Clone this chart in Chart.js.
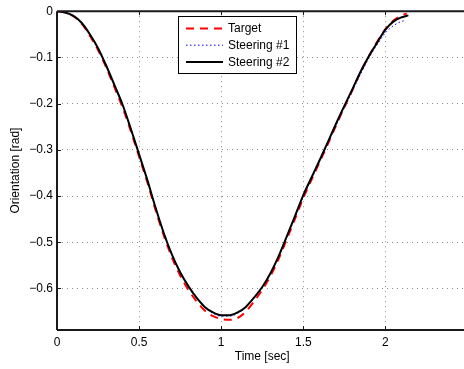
<!DOCTYPE html>
<html><head><meta charset="utf-8">
<script src="https://cdn.jsdelivr.net/npm/chart.js@4/dist/chart.umd.min.js"></script>
<style>html,body{margin:0;padding:0;overflow:hidden;background:#fff;width:464px;height:369px}canvas{display:block}</style>
</head><body><canvas id="c" width="468" height="369"></canvas>
<script>
// ---- data ----
const timeTarget = [0,0.05,0.1,0.15,0.2,0.25,0.3,0.35,0.4,0.45,0.5,0.55,0.6,0.65,0.7,0.75,0.8,0.85,0.9,0.95,1.0,1.05,1.1,1.15,1.2,1.25,1.3,1.35,1.4,1.45,1.5,1.55,1.6,1.65,1.7,1.75,1.8,1.85,1.9,1.95,2.0,2.05,2.1,2.13];
const target = [0,-0.003,-0.011,-0.027,-0.053,-0.084,-0.122,-0.165,-0.209,-0.26,-0.315,-0.37,-0.43,-0.485,-0.533,-0.572,-0.603,-0.628,-0.648,-0.66,-0.666,-0.668,-0.664,-0.65,-0.628,-0.603,-0.573,-0.536,-0.493,-0.449,-0.404,-0.365,-0.326,-0.287,-0.247,-0.208,-0.17,-0.131,-0.097,-0.066,-0.039,-0.020,-0.009,-0.005];
const timeSteer1 = [0,0.05,0.1,0.15,0.2,0.25,0.3,0.35,0.4,0.45,0.5,0.55,0.6,0.65,0.7,0.75,0.8,0.85,0.9,0.95,1.0,1.05,1.1,1.15,1.2,1.25,1.3,1.35,1.4,1.45,1.5,1.55,1.6,1.65,1.7,1.75,1.8,1.85,1.9,1.95,2.0,2.05,2.1,2.12];
const steer1 = [0,-0.003,-0.010,-0.025,-0.050,-0.080,-0.118,-0.160,-0.203,-0.255,-0.310,-0.365,-0.425,-0.480,-0.527,-0.566,-0.596,-0.621,-0.641,-0.654,-0.660,-0.660,-0.654,-0.640,-0.620,-0.597,-0.567,-0.531,-0.489,-0.446,-0.401,-0.363,-0.325,-0.286,-0.247,-0.209,-0.172,-0.135,-0.101,-0.072,-0.047,-0.031,-0.022,-0.020];
const timeSteer2 = [0,0.05,0.1,0.15,0.2,0.25,0.3,0.35,0.4,0.45,0.5,0.55,0.6,0.65,0.7,0.75,0.8,0.85,0.9,0.95,1.0,1.05,1.1,1.15,1.2,1.25,1.3,1.35,1.4,1.45,1.5,1.55,1.6,1.65,1.7,1.75,1.8,1.85,1.9,1.95,2.0,2.05,2.1,2.14];
const steer2 = [0,-0.003,-0.010,-0.025,-0.050,-0.080,-0.118,-0.160,-0.203,-0.255,-0.310,-0.365,-0.425,-0.480,-0.527,-0.565,-0.595,-0.620,-0.640,-0.652,-0.658,-0.658,-0.652,-0.640,-0.620,-0.597,-0.567,-0.530,-0.487,-0.443,-0.398,-0.360,-0.322,-0.283,-0.243,-0.205,-0.168,-0.130,-0.097,-0.068,-0.040,-0.022,-0.013,-0.009];
const seriesLabels = ['Target','Steering #1','Steering #2'];
const xTicks = [0,0.5,1,1.5,2];
const yTicks = [0,-0.1,-0.2,-0.3,-0.4,-0.5,-0.6];
const xTitle = 'Time [sec]';
const yTitle = 'Orientation [rad]';

const pts = (xs, ys) => xs.map((x,i)=>({x, y: ys[i]}));
const FONT = 'Liberation Sans, Arial, Helvetica, sans-serif';
const gridColor = '#8a8a8a';

const framePlugin = {
  id: 'frame',
  afterDatasetsDraw(chart){
    const {ctx, chartArea:a, scales:{x, y}} = chart;
    ctx.save();
    ctx.strokeStyle = '#1a1a1a';
    ctx.lineWidth = 2;
    ctx.setLineDash([]);
    ctx.beginPath();
    ctx.moveTo(a.left, a.top); ctx.lineTo(a.right, a.top);
    ctx.moveTo(a.left, a.bottom); ctx.lineTo(a.right, a.bottom);
    ctx.moveTo(a.left, a.top); ctx.lineTo(a.left, a.bottom);
    ctx.stroke();
    ctx.lineWidth = 1;
    ctx.beginPath();
    xTicks.forEach(v => {
      const px = Math.round(x.getPixelForValue(v)) + 0.5;
      ctx.moveTo(px, a.bottom); ctx.lineTo(px, a.bottom - 4);
      ctx.moveTo(px, a.top); ctx.lineTo(px, a.top + 4);
    });
    yTicks.forEach(v => {
      const py = Math.round(y.getPixelForValue(v)) + 0.5;
      ctx.moveTo(a.left, py); ctx.lineTo(a.left + 4, py);
    });
    ctx.stroke();
    ctx.restore();
  }
};

const legendPlugin = {
  id: 'boxLegend',
  afterDraw(chart){
    const ctx = chart.ctx;
    const bx = 178.5, by = 16.5, bw = 118, bh = 57;
    ctx.save();
    ctx.fillStyle = '#fff';
    ctx.fillRect(bx, by, bw, bh);
    ctx.strokeStyle = '#000';
    ctx.lineWidth = 1;
    ctx.setLineDash([]);
    ctx.strokeRect(bx, by, bw, bh);
    chart.data.datasets.forEach((ds, i) => {
      const yy = 28.5 + i * 16.7;
      ctx.strokeStyle = ds.borderColor;
      ctx.lineWidth = ds.borderWidth;
      ctx.setLineDash(ds.borderDash || []);
      ctx.beginPath();
      ctx.moveTo(186, yy); ctx.lineTo(223, yy);
      ctx.stroke();
      ctx.setLineDash([]);
      ctx.fillStyle = '#000';
      ctx.font = '12px ' + FONT;
      ctx.textBaseline = 'middle';
      ctx.textAlign = 'left';
      ctx.fillText(ds.label, 228, yy + 0.5);
    });
    ctx.restore();
  }
};

new Chart(document.getElementById('c'), {
  type: 'line',
  data: {
    datasets: [
      {label: seriesLabels[0], data: pts(timeTarget, target), borderColor: '#ff0000', borderWidth: 2, borderDash: [8,6], order: 2},
      {label: seriesLabels[1], data: pts(timeSteer1, steer1), borderColor: '#0000ff', borderWidth: 1, borderDash: [1.5,2.5], order: 1},
      {label: seriesLabels[2], data: pts(timeSteer2, steer2), borderColor: '#000000', borderWidth: 2, order: 0}
    ]
  },
  options: {
    responsive: false,
    animation: false,
    devicePixelRatio: 1,
    layout: {padding: {left: 8, top: 11, right: 0.5, bottom: 5}},
    elements: {point: {radius: 0}, line: {cubicInterpolationMode: 'monotone', fill: false}},
    plugins: {legend: {display: false}, tooltip: {enabled: false}},
    scales: {
      x: {
        type: 'linear', min: 0, max: 2.5,
        afterBuildTicks: s => { s.ticks = xTicks.map(v => ({value: v})); },
        afterFit: s => { s.height = 34; },
        ticks: {color: '#000', font: {family: FONT, size: 12}, padding: 5, maxRotation: 0,
          callback: v => String(v)},
        grid: {color: gridColor, lineWidth: 1, drawTicks: false},
        border: {display: false, dash: [1,4]},
        title: {display: true, text: xTitle, color: '#000', font: {family: FONT, size: 12}, padding: 0}
      },
      y: {
        type: 'linear', min: -0.69, max: 0,
        afterBuildTicks: s => { s.ticks = yTicks.map(v => ({value: v})); },
        afterFit: s => { s.width = 49; },
        ticks: {color: '#000', font: {family: FONT, size: 12}, padding: 4,
          callback: v => v === 0 ? '0' : String(v).replace('-', '\u2212')},
        grid: {color: gridColor, lineWidth: 1, drawTicks: false},
        border: {display: false, dash: [1,4]},
        title: {display: true, text: yTitle, color: '#000', font: {family: FONT, size: 12}, padding: 0}
      }
    }
  },
  plugins: [framePlugin, legendPlugin]
});
</script>
</body></html>
